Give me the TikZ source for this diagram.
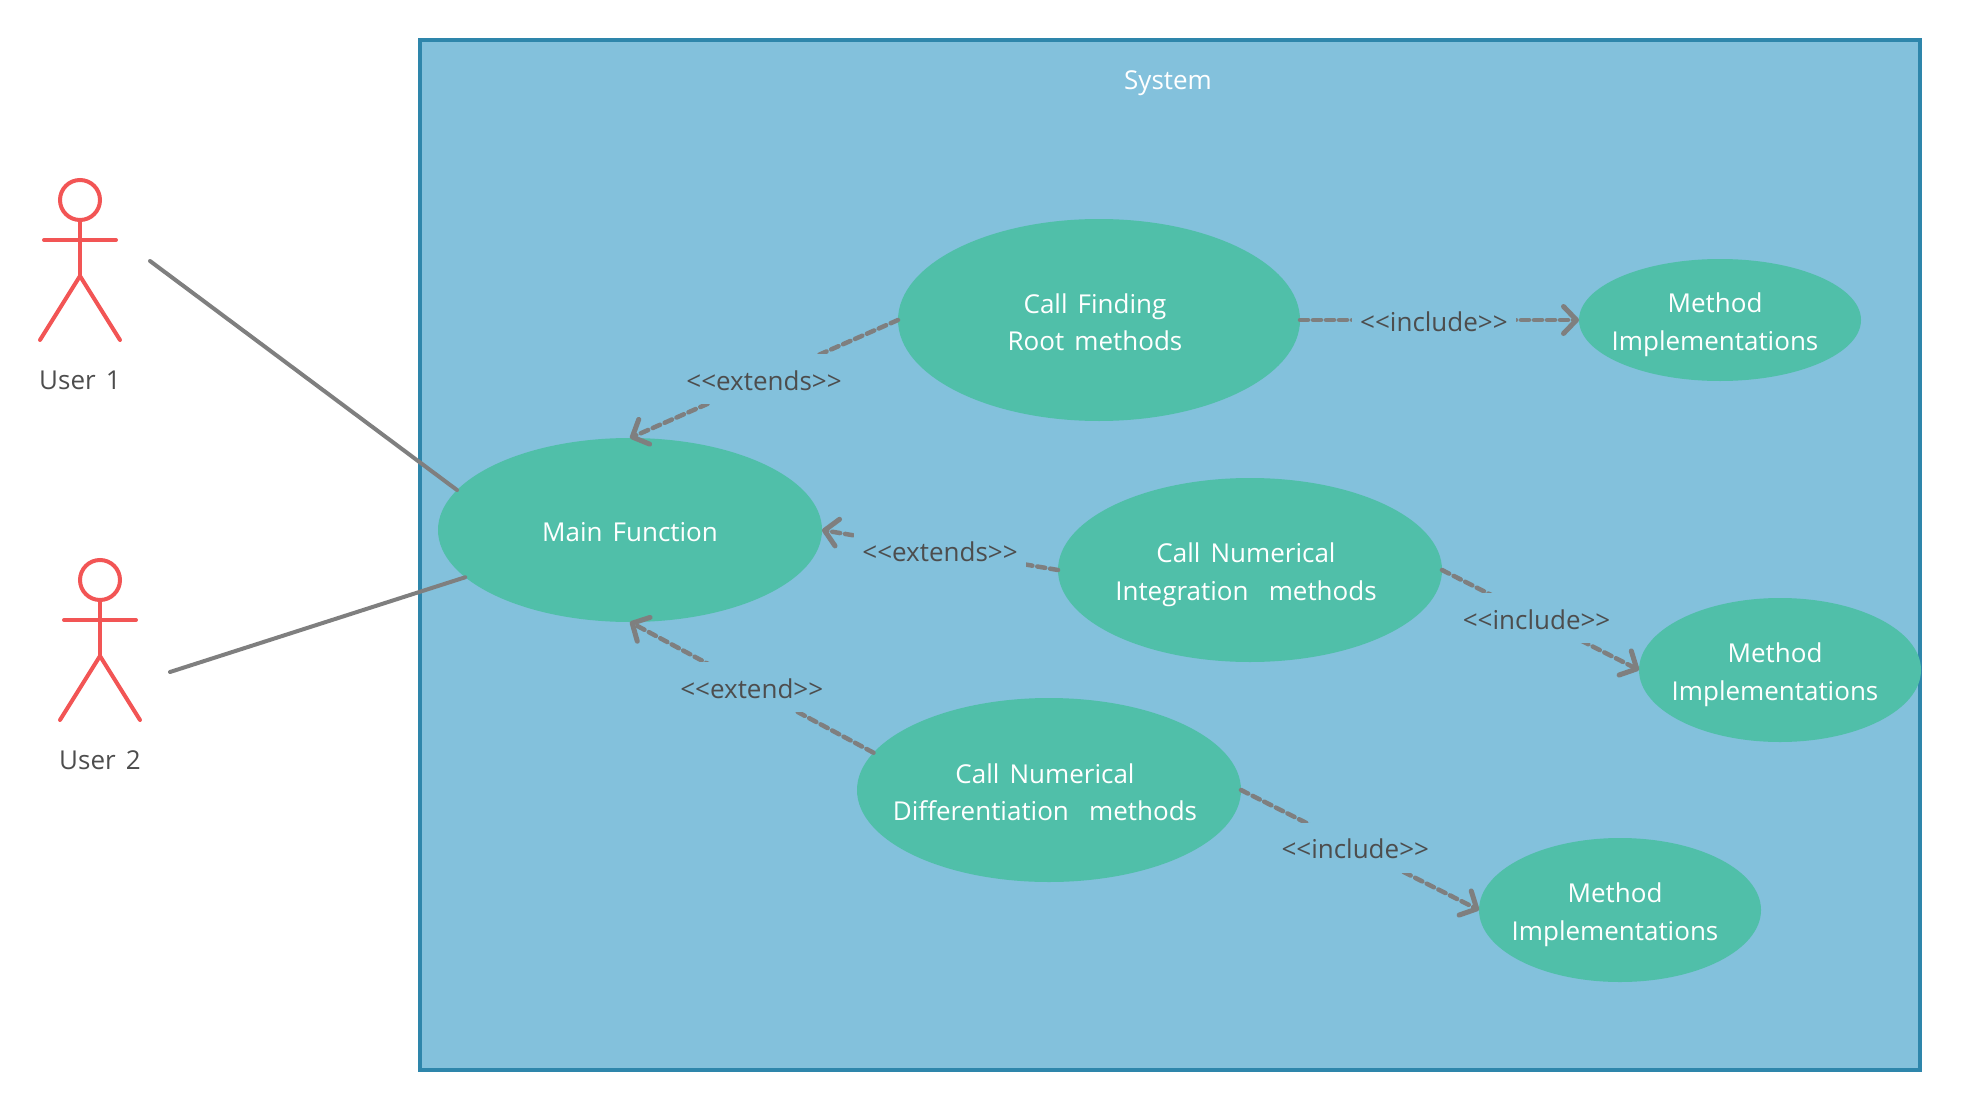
\documentclass[tikz,border=0pt]{standalone}
\usepackage{fontspec}
\setmainfont[WordSpace=1.5,Ligatures=NoCommon]{Open Sans}
\definecolor{ucsystem}{RGB}{131,193,220}
\definecolor{ucborder}{RGB}{46,134,171}
\definecolor{ucgreen}{RGB}{80,191,169}
\definecolor{ucred}{RGB}{242,85,85}
\definecolor{ucgray}{RGB}{127,127,127}
\definecolor{uctext}{RGB}{77,77,77}
\usetikzlibrary{arrows.meta,positioning,shapes.geometric}
\tikzset{
  usecase/.style={ellipse, fill=ucgreen, text=white, align=center, inner xsep=-50pt, inner ysep=-30pt, outer sep=0pt,
    execute at begin node={\rule{0pt}{28pt}}, execute at end node={\rule[-6pt]{0pt}{0pt}}},
  twoline/.style={execute at begin node={\kern-#1pt\rule{0pt}{67pt}}},
  bigcase/.style={usecase, minimum width=384pt, minimum height=184pt},
  methodcase/.style={usecase, twoline=10, minimum width=282pt, minimum height=144pt},
  actorline/.style={ucred, line width=4pt, line cap=round},
  assocline/.style={ucgray, line width=4pt, line cap=round},
  depline/.style={ucgray, line width=4.5pt, line cap=round, dash pattern=on 8pt off 5pt, -{Straight Barb[length=13pt,width=27pt,line width=5pt,round]}},
  deplabel/.style={fill=ucsystem, text=uctext, inner xsep=8pt, inner ysep=0pt, minimum height=50pt, text height=22pt, text depth=0pt}
}
\newcommand{\stereo}[1]{{<}{<}#1{>}{>}}
\begin{document}
\begin{tikzpicture}[x=1pt, y=-1pt, font=\fontsize{26pt}{37.5pt}\selectfont]
  \useasboundingbox (0,0) rectangle (1961,1110);
  \draw[ucborder, fill=ucsystem, line width=4pt] (420,40) rectangle (1920,1070);
  \node[text=white] (system) at (1168,83) {System};

  % actors
  \foreach \px/\py/\usr in {80/200/1, 100/580/2} {
    \draw[actorline] (\px,\py) circle (20);
    \draw[actorline] (\px,\py+20) -- (\px,\py+76) (\px-36,\py+40) -- (\px+36,\py+40);
    \draw[actorline] (\px-40,\py+140) -- (\px,\py+76) -- (\px+40,\py+140);
    \node[text=uctext] (user\usr) at (\px,\py+180) {User \usr};
  }
  \coordinate (user1end) at (150,261);
  \coordinate (user2end) at (170,672);

  % use cases
  \node[bigcase] (main) at (630,530) {Main Function};
  \node[bigcase, twoline=8, minimum width=402pt, minimum height=202pt] (root) at (1099,320) {Call Finding\\Root methods};
  \node[bigcase, twoline=8] (integ) at (1250,570) {Call Numerical\\Integration\ \ methods};
  \node[bigcase, twoline=8] (diff) at (1049,790) {Call Numerical\\Differentiation\ \ methods};
  \node[methodcase, minimum height=122pt] (method1) at (1720,320) {Method\\Implementations};
  \node[methodcase] (method2) at (1780,670) {Method\\Implementations};
  \node[methodcase] (method3) at (1620,910) {Method\\Implementations};

  % connectors
  \draw[assocline] (user1end) -- (main.167);
  \draw[assocline] (user2end) -- (main.196);
  \draw[depline] (root.west) -- node[deplabel] (ext1) {\stereo{extends}} (main.north);
  \draw[depline] (integ.west) -- node[deplabel] (ext2) {\stereo{extends}} (main.east);
  \draw[depline] (diff.168) -- node[deplabel] (ext3) {\stereo{extend}} (main.south);
  \draw[depline] (root.east) -- node[deplabel, pos=0.48] (inc1) {\stereo{include}} (method1.west);
  \draw[depline] (integ.east) -- node[deplabel, pos=0.48] (inc2) {\stereo{include}} (method2.west);
  \draw[depline] (diff.east) -- node[deplabel, pos=0.48] (inc3) {\stereo{include}} (method3.west);
\end{tikzpicture}
\end{document}
